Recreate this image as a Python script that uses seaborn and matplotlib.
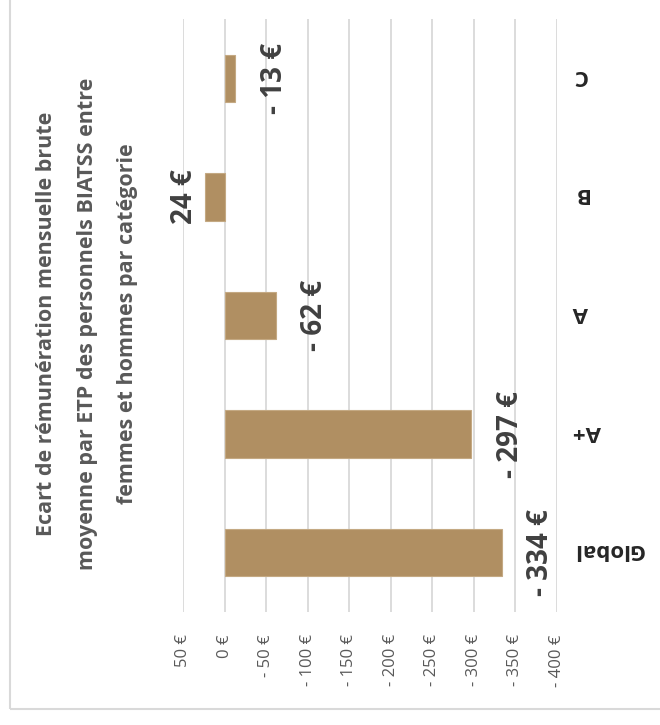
import matplotlib
matplotlib.use("Agg")
import matplotlib.pyplot as plt
from matplotlib.patches import Rectangle
from matplotlib.transforms import blended_transform_factory, ScaledTranslation
import seaborn as sns
import pandas as pd

# ---- data ----
categories = ["Global", "A+", "A", "B", "C"]
values = [-334, -297, -62, 24, -13]
tick_values = [50, 0, -50, -100, -150, -200, -250, -300, -350, -400]
tick_labels = ["50 €", "0 €", "- 50 €", "- 100 €", "- 150 €", "- 200 €",
               "- 250 €", "- 300 €", "- 350 €", "- 400 €"]
title_lines = ["Ecart de rémunération mensuelle brute",
               "moyenne par ETP des personnels BIATSS entre",
               "femmes et hommes par catégorie"]

sns.set_style("white")
plt.rcParams["font.family"] = ["Open Sans", "DejaVu Sans"]

W, H = 660, 725
fig = plt.figure(figsize=(W / 100, H / 100), dpi=100)
ax = fig.add_axes([183 / W, 1 - 612 / H, (557 - 183) / W, (612 - 19) / H])

df = pd.DataFrame({"cat": categories, "val": values})
order = categories[::-1]  # C on top, Global at bottom
sns.barplot(data=df, x="val", y="cat", order=order, orient="h",
            color="#B08F62", saturation=1, width=0.4,
            edgecolor="#C4A983", linewidth=0.8, ax=ax)

ax.set_xlim(50, -400)
ax.set_xticks(tick_values)
ax.set_xticklabels(tick_labels, rotation=90, fontsize=12, color="#595959")
ax.tick_params(axis="x", length=0, pad=16)
ax.grid(axis="x", color="#D9D9D9", lw=1.3)
ax.grid(axis="y", visible=False)
ax.set_axisbelow(True)
for s in ax.spines.values():
    s.set_visible(False)

# category labels (upside down, right side)
ax.set_yticks(range(len(order)))
ax.set_yticklabels([])
ax.tick_params(axis="y", length=0)
ax.set_xlabel("")
ax.set_ylabel("")
trans = blended_transform_factory(ax.transAxes, ax.transData) + \
    ScaledTranslation(16 / 100, 3 / 100, fig.dpi_scale_trans)
for i, cat in enumerate(order):
    ax.text(1.0, i, cat, transform=trans, rotation=180, ha="left", va="center",
            fontsize=16, fontweight="bold", color="#262626")

# data labels
for cat, v in zip(categories, values):
    i = order.index(cat)
    txt = f"- {abs(v)} €" if v < 0 else f"{v} €"
    if v < 0:
        ax.annotate(txt, xy=(v, i), xytext=(17.5, 0), textcoords="offset points",
                    rotation=90, ha="left", va="center", fontsize=20,
                    fontweight="bold", color="#404040")
    else:
        ax.annotate(txt, xy=(v, i), xytext=(-4, 0), textcoords="offset points",
                    rotation=90, ha="right", va="center", fontsize=20,
                    fontweight="bold", color="#404040")

# title (rotated)
for xpx, line in zip([47, 88, 128], title_lines):
    fig.text(xpx / W, 1 - 324 / H, line, rotation=90, ha="center", va="center",
             fontsize=15.5, fontweight="bold", color="#595959")

# chart-area border
fig.add_artist(Rectangle((10 / W, 16 / H), 2, 2, transform=fig.transFigure,
                         fill=False, ec="#D9D9D9", lw=1.5))

fig.savefig("out.png", dpi=100)
